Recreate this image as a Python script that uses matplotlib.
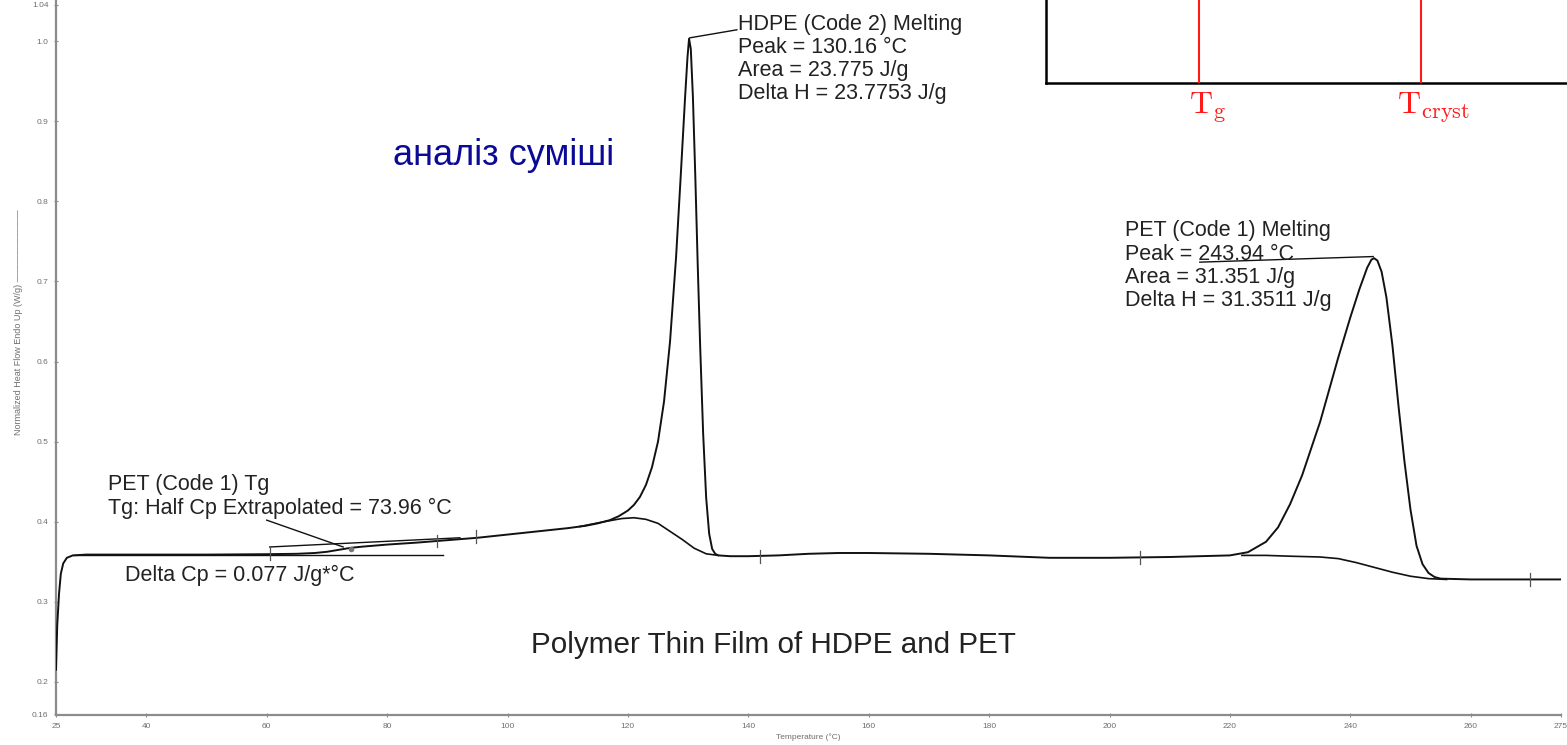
import matplotlib
matplotlib.use("Agg")
import matplotlib.pyplot as plt
from matplotlib.lines import Line2D

# ---------------- data ----------------
temp = [25.0, 25.2, 25.5, 25.8, 26.2, 26.8, 27.8, 30, 40, 50, 60, 65, 68, 70, 72, 74, 76, 80,
        85, 90, 95, 100, 105, 110, 113, 115, 117, 118.5, 120, 121, 122, 123, 124, 125, 126, 127,
        128, 128.8, 129.5, 129.9, 130.16, 130.45, 130.8, 131.2, 131.6, 132.0, 132.5, 133.0,
        133.5, 134.0, 134.5, 135, 137, 140, 145, 150, 155, 160, 170, 180, 190, 200, 210, 215,
        220, 223, 226, 228, 230, 232, 235, 238, 240, 241.5, 242.8, 243.5, 243.94, 244.5, 245.2,
        246, 247, 248, 249, 250, 251, 252, 253, 254, 255, 260, 275]
heat = [0.215, 0.27, 0.31, 0.335, 0.348, 0.355, 0.358, 0.359, 0.359, 0.359, 0.3595, 0.360,
        0.361, 0.3625, 0.365, 0.3675, 0.369, 0.3715, 0.374, 0.377, 0.380, 0.384, 0.388, 0.392,
        0.395, 0.398, 0.402, 0.407, 0.414, 0.421, 0.431, 0.446, 0.468, 0.5, 0.55, 0.625,
        0.73, 0.835, 0.93, 0.98, 1.003, 0.99, 0.93, 0.83, 0.72, 0.62, 0.51, 0.43, 0.385, 0.366,
        0.360, 0.358, 0.357, 0.357, 0.358, 0.360, 0.361, 0.361, 0.360, 0.358, 0.355, 0.355,
        0.356, 0.357, 0.358, 0.362, 0.375, 0.393, 0.422, 0.458, 0.525, 0.605, 0.655, 0.69,
        0.717, 0.727, 0.729, 0.726, 0.712, 0.68, 0.62, 0.545, 0.475, 0.415, 0.37, 0.347, 0.336,
        0.331, 0.329, 0.328, 0.328]

# integration baselines
hdpe_base_t = [112, 116, 119, 121, 123, 125, 127, 129, 131, 133, 135]
hdpe_base_y = [0.394, 0.400, 0.404, 0.405, 0.403, 0.398, 0.388, 0.378, 0.367, 0.360, 0.358]
pet_base_t = [222, 226, 230, 235, 238, 241, 244, 247, 250, 253, 256]
pet_base_y = [0.358, 0.358, 0.357, 0.356, 0.354, 0.349, 0.343, 0.337, 0.332, 0.329, 0.328]

# Tg construction lines
tg_low_t = [28, 89.3]
tg_low_y = [0.3586, 0.3586]
tg_up_t = [60.5, 92.1]
tg_up_y = [0.3685, 0.380]
tg_point = (73.96, 0.3665)

# limit ticks on the curve
mark_t = [60.5, 88.3, 94.8, 141.9, 205.1, 269.9]
mark_y = [0.360, 0.376, 0.382, 0.357, 0.355, 0.328]

# leader lines
hdpe_lead_t = [130.3, 138.1]
hdpe_lead_y = [1.004, 1.014]
pet_lead_t = [215.0, 243.8]
pet_lead_y = [0.724, 0.731]
tg_lead_t = [60.0, 72.7]
tg_lead_y = [0.402, 0.3685]

xticks = [25, 40, 60, 80, 100, 120, 140, 160, 180, 200, 220, 240, 260, 275]
yticks = [0.16, 0.2, 0.3, 0.4, 0.5, 0.6, 0.7, 0.8, 0.9, 1.0, 1.045]
ytick_labels = ["0.16", "0.2", "0.3", "0.4", "0.5", "0.6", "0.7", "0.8", "0.9", "1.0", "1.04"]

hdpe_text = "HDPE (Code 2) Melting\nPeak = 130.16 °C\nArea = 23.775 J/g\nDelta H = 23.7753 J/g"
pet_text = "PET (Code 1) Melting\nPeak = 243.94 °C\nArea = 31.351 J/g\nDelta H = 31.3511 J/g"
tg_text = "PET (Code 1) Tg\nTg: Half Cp Extrapolated = 73.96 °C"
dcp_text = "Delta Cp = 0.077 J/g*°C"
title_text = "Polymer Thin Film of HDPE and PET"
blue_text = "аналіз суміші"

# ---------------- figure ----------------
W, H = 1567, 745
fig = plt.figure(figsize=(W / 100, H / 100), dpi=100)
fig.patch.set_facecolor("white")
ax = fig.add_axes([56 / W, 30 / H, (1561 - 56) / W, 715 / H])
ax.set_xlim(25, 275)
ax.set_ylim(0.1588, 1.0512)

font = "Liberation Sans"
axis_grey = "#8c8c8c"
for s in ["top", "right"]:
    ax.spines[s].set_visible(False)
for s in ["left", "bottom"]:
    ax.spines[s].set_color(axis_grey)
    ax.spines[s].set_linewidth(1.6)

ax.set_xticks(xticks)
ax.set_xticklabels([str(t) for t in xticks], fontsize=6, color="#6f6f6f", family=font)
ax.set_yticks(yticks)
ax.set_yticklabels(ytick_labels, fontsize=6, color="#6f6f6f", family=font)
ax.tick_params(axis="both", length=3, width=0.8, color=axis_grey, direction="inout", pad=4)

ax.set_xlabel("Temperature (°C)", fontsize=6, color="#6f6f6f", family=font)
ax.xaxis.set_label_coords(0.5, -0.026)
ax.set_ylabel("Normalized Heat Flow Endo Up (W/g) ————————", fontsize=6.5,
              color="#6f6f6f", family=font)
ax.yaxis.set_label_coords(-0.022, 0.55)

# curves
lc = "#111111"
ax.plot(temp, heat, color=lc, lw=1.4, solid_capstyle="round", solid_joinstyle="round", zorder=3)
ax.plot(hdpe_base_t, hdpe_base_y, color=lc, lw=1.2, zorder=3)
ax.plot(pet_base_t, pet_base_y, color=lc, lw=1.2, zorder=3)
ax.plot(tg_low_t, tg_low_y, color=lc, lw=1.0, zorder=3)
ax.plot(tg_up_t, tg_up_y, color=lc, lw=1.0, zorder=3)
ax.plot([tg_point[0]], [tg_point[1]], marker="o", ms=3, color="#777777", zorder=4)
for t, y in zip(mark_t, mark_y):
    ax.plot([t, t], [y - 0.008, y + 0.008], color="#555555", lw=0.9, zorder=3)

ax.plot(hdpe_lead_t, hdpe_lead_y, color=lc, lw=1.0)
ax.plot(pet_lead_t, pet_lead_y, color=lc, lw=1.0)
ax.plot(tg_lead_t, tg_lead_y, color=lc, lw=1.0)

# annotations
afs = 15.5
ls = 1.13
tc = "#222222"
ax.text(138.3, 1.034, hdpe_text, fontsize=afs, family=font, color=tc,
        va="top", ha="left", linespacing=ls)
ax.text(202.6, 0.776, pet_text, fontsize=afs, family=font, color=tc,
        va="top", ha="left", linespacing=ls)
ax.text(33.6, 0.46, tg_text, fontsize=afs, family=font, color=tc,
        va="top", ha="left", linespacing=1.2)
ax.text(36.5, 0.3336, dcp_text, fontsize=afs, family=font, color=tc,
        va="center", ha="left")
ax.text(144.1, 0.246, title_text, fontsize=21.3, family=font, color=tc,
        va="center", ha="center")
ax.text(99.3, 0.857, blue_text, fontsize=26, family=font, color="#0a0a96",
        va="center", ha="center")

# inset graphic (top right)
def fx(px):
    return px / W

def fy(py):
    return 1 - py / H

fig.add_artist(Line2D([fx(1046), fx(1046)], [fy(83), 1.0], color="black", lw=1.8,
                      transform=fig.transFigure))
fig.add_artist(Line2D([fx(1046), 1.0], [fy(83), fy(83)], color="black", lw=1.8,
                      transform=fig.transFigure))
for px in [1199, 1421]:
    fig.add_artist(Line2D([fx(px), fx(px)], [fy(82), 1.0], color="#ff1a1a", lw=1.5,
                          transform=fig.transFigure))
plt.rcParams["mathtext.fontset"] = "cm"
fig.text(fx(1208), fy(108), r"$\mathrm{T_g}$", fontsize=23, color="#ff1a1a",
         ha="center", va="center")
fig.text(fx(1434), fy(108), r"$\mathrm{T_{cryst}}$", fontsize=23, color="#ff1a1a",
         ha="center", va="center")

fig.savefig("out.png", dpi=100, facecolor="white")
